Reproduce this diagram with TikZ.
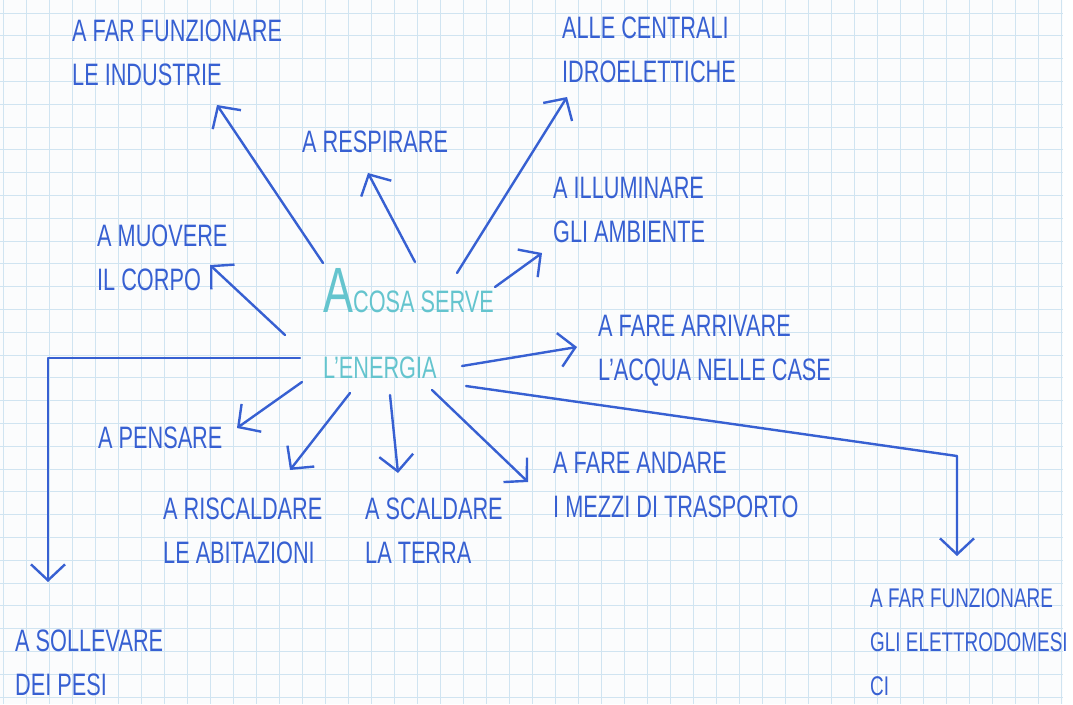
\documentclass[tikz,border=0pt]{standalone}
\usepackage{fontspec}
\setmainfont[FakeStretch=0.7]{Liberation Sans}
\usetikzlibrary{arrows.meta}
\definecolor{pen}{RGB}{55,96,210}
\definecolor{teal pen}{RGB}{100,196,206}
\definecolor{grid blue}{RGB}{208,228,241}
\definecolor{paper}{RGB}{251,252,253}
\begin{document}
\begin{tikzpicture}[
    x=1pt, y=-1pt,
    every node/.style={align=left, anchor=base west, inner sep=0pt, text=pen, font=\fontsize{31}{44}\selectfont},
    pen line/.style={draw=pen, line width=2.4pt, line cap=round, line join=round},
    pen arrow/.style={pen line, -{Straight Barb[length=16pt, width=34pt, line width=2.4pt]}},
    grid line/.style={draw=grid blue, line width=0.7pt},
    ]
\useasboundingbox (0,0) rectangle (1073,704);
\fill[paper] (0,0) rectangle (1063,704);
% squared paper
\foreach \k in {0,...,46} \draw[grid line] ({3+23*\k},0) -- ({3+23*\k},704);
\foreach \k in {0,...,30} \draw[grid line] (0,{13+22.8*\k}) -- (1063,{13+22.8*\k});
% labels (anchored at the last line)
\node (IND) at (72,85) {A FAR FUNZIONARE\\LE INDUSTRIE};
\node (CENTRALI) at (562,82) {ALLE CENTRALI\\IDROELETTICHE};
\node (RESP) at (302,152) {A RESPIRARE};
\node (ILL) at (553,242) {A ILLUMINARE\\GLI AMBIENTE};
\node (MUO) at (97,290) {A MUOVERE\\IL CORPO};
\node[text=teal pen] (ENERGIA) at (323,378) {{\fontsize{64}{64}\selectfont A}COSA SERVE\\[22pt]L'ENERGIA};
\node (ACQUA) at (598,380) {A FARE ARRIVARE\\L'ACQUA NELLE CASE};
\node (PENS) at (98,448) {A PENSARE};
\node (RISC) at (163,563) {A RISCALDARE\\LE ABITAZIONI};
\node (SCAL) at (365,563) {A SCALDARE\\LA TERRA};
\node (TRASP) at (553,517) {A FARE ANDARE\\I MEZZI DI TRASPORTO};
\node (PESI) at (15,695) {A SOLLEVARE\\DEI PESI};
\node[font=\fontsize{27}{44}\selectfont] (ELETTRO) at (870,695) {A FAR FUNZIONARE\\GLI ELETTRODOMESI\\CI};
% arrow ends
\coordinate (s-ind) at (323,263);  \coordinate (t-ind) at (217,105);
\coordinate (s-resp) at (415,262); \coordinate (t-resp) at (368,173);
\coordinate (s-cen) at (457,273);  \coordinate (t-cen) at (567,97);
\coordinate (s-ill) at (495,287);  \coordinate (t-ill) at (542,253);
\coordinate (s-muo) at (285,335);  \coordinate (t-muo) at (210,265);
\coordinate (s-pesi) at (300,358); \coordinate (k-pesi) at (48,358); \coordinate (t-pesi) at (48,582);
\coordinate (s-pens) at (302,382); \coordinate (t-pens) at (237,428);
\coordinate (s-risc) at (350,393); \coordinate (t-risc) at (290,470);
\coordinate (s-scal) at (390,395); \coordinate (t-scal) at (398,473);
\coordinate (s-trasp) at (432,390); \coordinate (t-trasp) at (528,482);
\coordinate (s-acq) at (462,366);  \coordinate (t-acq) at (577,347);
\coordinate (s-el) at (466,386);   \coordinate (k-el) at (957,456); \coordinate (t-el) at (957,556);
% arrows
\draw[pen arrow] (s-ind) -- (t-ind);
\draw[pen arrow] (s-resp) -- (t-resp);
\draw[pen arrow] (s-cen) -- (t-cen);
\draw[pen arrow] (s-ill) -- (t-ill);
\draw[pen arrow] (s-muo) -- (t-muo);
\draw[pen arrow] (s-pesi) -- (k-pesi) -- (t-pesi);
\draw[pen arrow] (s-pens) -- (t-pens);
\draw[pen arrow] (s-risc) -- (t-risc);
\draw[pen arrow] (s-scal) -- (t-scal);
\draw[pen arrow] (s-trasp) -- (t-trasp);
\draw[pen arrow] (s-acq) -- (t-acq);
\draw[pen arrow] (s-el) -- (k-el) -- (t-el);
\end{tikzpicture}
\end{document}
